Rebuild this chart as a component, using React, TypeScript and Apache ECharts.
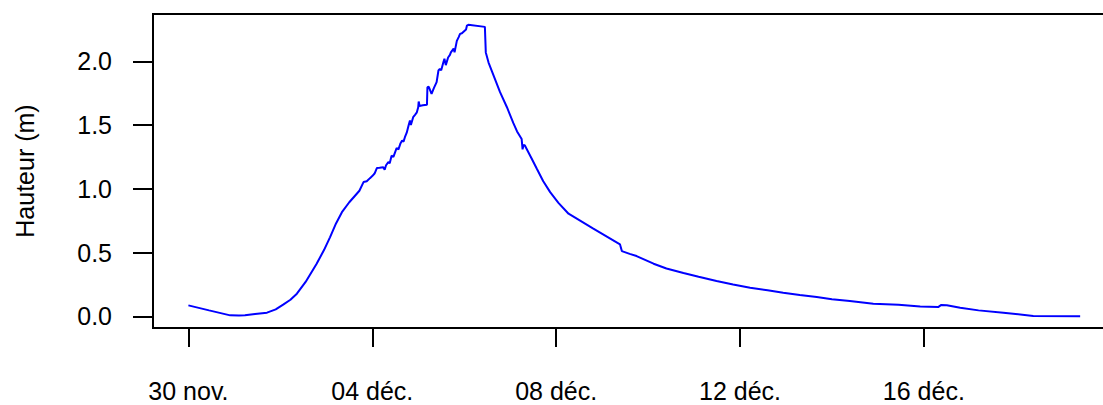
import React, { useEffect, useRef } from "react";
import * as echarts from "echarts";

// time in days since 30 nov. 00:00
const times: number[] = [
  0.0, 0.45, 0.91, 1.1, 1.23, 1.45, 1.71, 1.9, 2.07, 2.22, 2.36, 2.55, 2.79, 2.95, 3.08, 3.2, 3.34, 3.5,
  3.63, 3.72, 3.81, 3.88, 3.95, 4.0, 4.05, 4.1, 4.16, 4.24, 4.27, 4.3, 4.35, 4.38, 4.42, 4.46, 4.5, 4.53,
  4.57, 4.61, 4.65, 4.68, 4.71, 4.75, 4.79, 4.82, 4.84, 4.89, 4.93, 4.97, 5.0, 5.01, 5.03, 5.1, 5.19, 5.2,
  5.23, 5.29, 5.34, 5.4, 5.44, 5.47, 5.5, 5.55, 5.57, 5.6, 5.65, 5.69, 5.71, 5.77, 5.79, 5.84, 5.88, 5.91,
  5.95, 5.98, 6.01, 6.04, 6.06, 6.09, 6.45, 6.47, 6.53, 6.78, 6.93, 7.07, 7.15, 7.25, 7.27, 7.29, 7.32,
  7.45, 7.58, 7.72, 7.87, 8.05, 8.27, 8.8, 9.39, 9.43, 9.6, 9.75, 10.12, 10.4, 10.77, 11.1, 11.49, 11.85,
  12.22, 12.6, 12.94, 13.3, 13.67, 14.0, 14.39, 14.9, 15.45, 15.92, 16.31, 16.38, 16.5, 16.79, 17.19,
  17.73, 18.38, 19.4,
];

// water height in metres
const heights: number[] = [
  0.086, 0.047, 0.008, 0.006, 0.008, 0.018, 0.029, 0.055, 0.094, 0.13, 0.178, 0.27, 0.413, 0.52, 0.62,
  0.72, 0.817, 0.895, 0.948, 0.985, 1.053, 1.06, 1.084, 1.1, 1.12, 1.163, 1.165, 1.17, 1.15, 1.185, 1.21,
  1.2, 1.26, 1.25, 1.29, 1.32, 1.31, 1.353, 1.38, 1.37, 1.405, 1.44, 1.497, 1.536, 1.5, 1.562, 1.58, 1.6,
  1.64, 1.685, 1.65, 1.655, 1.66, 1.797, 1.8, 1.745, 1.79, 1.837, 1.928, 1.94, 1.93, 1.996, 2.02, 1.97,
  2.03, 2.05, 2.07, 2.1, 2.07, 2.16, 2.19, 2.215, 2.22, 2.23, 2.24, 2.25, 2.28, 2.286, 2.27, 2.07, 1.99,
  1.758, 1.64, 1.515, 1.45, 1.39, 1.31, 1.345, 1.34, 1.25, 1.157, 1.06, 0.974, 0.89, 0.805, 0.69, 0.564,
  0.512, 0.49, 0.473, 0.413, 0.375, 0.34, 0.31, 0.277, 0.25, 0.225, 0.205, 0.186, 0.167, 0.151, 0.135,
  0.12, 0.099, 0.092, 0.078, 0.073, 0.09, 0.088, 0.068, 0.047, 0.029, 0.003, 0.0,
];

const xTickValues: number[] = [0, 4, 8, 12, 16];
const xTickLabels: string[] = ["30 nov.", "04 déc.", "08 déc.", "12 déc.", "16 déc."];
const yTickValues: number[] = [0, 0.5, 1, 1.5, 2];

const FONT = "'Liberation Sans', Arial, sans-serif";

export default function App() {
  const ref = useRef<HTMLDivElement>(null);

  useEffect(() => {
    if (!ref.current) return;
    const chart = echarts.init(ref.current, undefined, { renderer: "svg" });
    const data = times.map((t, i) => [t, heights[i]]);
    chart.setOption({
      animation: false,
      backgroundColor: "#ffffff",
      grid: {
        left: 153,
        top: 14,
        width: 963,
        height: 314,
        show: true,
        borderColor: "#000000",
        borderWidth: 2,
        backgroundColor: "transparent",
      },
      xAxis: {
        type: "value",
        min: -0.77,
        max: 20.18,
        axisLine: { show: false, onZero: false },
        splitLine: { show: false },
        axisTick: {
          show: true,
          inside: false,
          length: 19,
          customValues: xTickValues,
          lineStyle: { color: "#000000", width: 2 },
        },
        axisLabel: {
          customValues: xTickValues,
          margin: 50,
          fontSize: 25,
          color: "#000000",
          fontFamily: FONT,
          formatter: (v: number) => {
            const i = xTickValues.indexOf(v);
            return i >= 0 ? xTickLabels[i] : "";
          },
        },
      },
      yAxis: {
        type: "value",
        min: -0.0912,
        max: 2.371,
        name: "Hauteur (m)",
        nameLocation: "middle",
        nameGap: 116,
        nameTextStyle: { fontSize: 25, color: "#000000", fontFamily: FONT },
        axisLine: { show: false, onZero: false },
        splitLine: { show: false },
        axisTick: {
          show: true,
          inside: false,
          length: 20,
          customValues: yTickValues,
          lineStyle: { color: "#000000", width: 2 },
        },
        axisLabel: {
          customValues: yTickValues,
          margin: 41,
          fontSize: 25,
          color: "#000000",
          fontFamily: FONT,
          formatter: (v: number) => v.toFixed(1),
        },
      },
      series: [
        {
          type: "line",
          data,
          showSymbol: false,
          symbol: "none",
          lineStyle: { color: "#0000FF", width: 2 },
          itemStyle: { color: "#0000FF" },
          clip: true,
        },
      ],
    });
    return () => chart.dispose();
  }, []);

  return (
    <div
      style={{
        position: "fixed",
        left: 0,
        top: 0,
        width: 1103,
        height: 405,
        overflow: "hidden",
        background: "#ffffff",
      }}
    >
      <div ref={ref} style={{ width: 1140, height: 405 }} />
    </div>
  );
}
